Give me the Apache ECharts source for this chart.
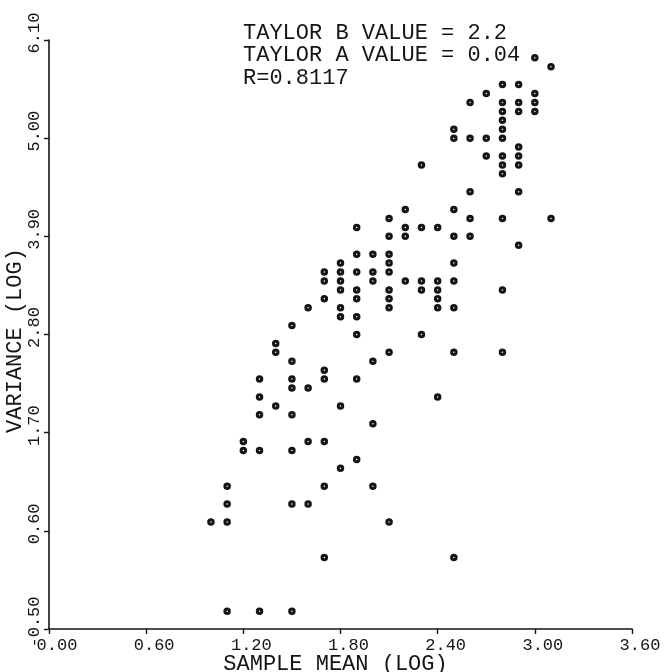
<!DOCTYPE html>
<html>
<head>
<meta charset="utf-8">
<script src="https://cdn.jsdelivr.net/npm/echarts@6/dist/echarts.min.js"></script>
<style>
  html, body { margin: 0; padding: 0; background: #fff; }
  #chart { width: 664px; height: 672px; }
</style>
</head>
<body>
<div id="chart"></div>
<script>
// Sample means (log) and the variances (log) observed at each mean
const sampleMean = [1.0, 1.1, 1.2, 1.3, 1.4, 1.5, 1.6, 1.7, 1.8, 1.9, 2.0,
                    2.1, 2.2, 2.3, 2.4, 2.5, 2.6, 2.7, 2.8, 2.9, 3.0, 3.1];
const varianceAtMean = [
  [0.7],
  [1.1, 0.9, 0.7, -0.3],
  [1.6, 1.5],
  [2.3, 2.1, 1.9, 1.5, -0.3],
  [2.7, 2.6, 2.0],
  [2.9, 2.5, 2.3, 2.2, 1.9, 1.5, 0.9, -0.3],
  [3.1, 2.2, 1.6, 0.9],
  [3.5, 3.4, 3.2, 2.4, 2.3, 1.6, 1.1, 0.3],
  [3.6, 3.5, 3.4, 3.3, 3.1, 3.0, 2.0, 1.3],
  [4.0, 3.7, 3.5, 3.3, 3.2, 3.0, 2.8, 2.3, 1.4],
  [3.7, 3.5, 3.4, 2.5, 1.8, 1.1],
  [4.1, 3.9, 3.7, 3.6, 3.5, 3.3, 3.2, 3.1, 2.6, 0.7],
  [4.2, 4.0, 3.9, 3.4],
  [4.7, 4.0, 3.4, 3.3, 2.8],
  [4.0, 3.4, 3.3, 3.2, 3.1, 2.1],
  [5.1, 5.0, 4.2, 3.9, 3.6, 3.4, 3.1, 2.6, 0.3],
  [5.4, 5.0, 4.4, 4.1, 3.9],
  [5.5, 5.0, 4.8],
  [5.6, 5.4, 5.3, 5.2, 5.1, 5.0, 4.8, 4.7, 4.6, 4.1, 3.3, 2.6],
  [5.6, 5.4, 5.3, 4.9, 4.8, 4.7, 4.4, 3.8],
  [5.9, 5.5, 5.4, 5.3],
  [5.8, 4.1]
];

const xTicks = [0, 0.6, 1.2, 1.8, 2.4, 3.0, 3.6];
const yTicks = [-0.5, 0.6, 1.7, 2.8, 3.9, 5.0, 6.1];
const statLines = ['TAYLOR B VALUE = 2.2', 'TAYLOR A VALUE = 0.04', 'R=0.8117'];

const points = [];
sampleMean.forEach((m, i) => {
  varianceAtMean[i].forEach(v => points.push([m, v]));
});

const ink = '#151515';
const mono = '"Liberation Mono", "DejaVu Sans Mono", monospace';

const axisLine = { show: true, onZero: false, lineStyle: { color: ink, width: 1.6 } };
const axisTick = { show: true, inside: false, length: 5, lineStyle: { color: ink, width: 1.4 } };

const chart = echarts.init(document.getElementById('chart'), null, { renderer: 'canvas' });
chart.setOption({
  animation: false,
  backgroundColor: '#fff',
  grid: { left: 49, right: 32, top: 40, bottom: 43, containLabel: false, outerBoundsMode: 'none' },
  xAxis: {
    type: 'value',
    min: xTicks[0],
    max: xTicks[xTicks.length - 1],
    interval: 0.6,
    axisLine,
    axisTick,
    splitLine: { show: false },
    axisLabel: {
      formatter: v => v.toFixed(2),
      fontFamily: mono, fontSize: 17, color: ink, margin: 8,
      padding: [0, 0, 0, 16]
    },
    name: 'SAMPLE MEAN (LOG)',
    nameLocation: 'middle',
    nameGap: 24,
    nameMoveOverlap: false,
    nameTextStyle: { fontFamily: mono, fontSize: 22, color: ink, padding: [0, 10, 0, 0] }
  },
  yAxis: {
    type: 'value',
    min: yTicks[0],
    max: yTicks[yTicks.length - 1],
    axisLine,
    axisTick: Object.assign({}, axisTick, { customValues: yTicks }),
    splitLine: { show: false },
    axisLabel: {
      customValues: yTicks,
      rotate: 90,
      formatter: v => v.toFixed(2),
      fontFamily: mono, fontSize: 17, color: ink, margin: 6,
      padding: [0, 0, 0, 14]
    },
    name: 'VARIANCE (LOG)',
    nameLocation: 'middle',
    nameRotate: 90,
    nameGap: 23,
    nameMoveOverlap: false,
    nameTextStyle: { fontFamily: mono, fontSize: 22, color: ink, padding: [0, 12, 0, 0] }
  },
  graphic: statLines.map((t, i) => ({
    type: 'text',
    left: 243,
    top: 22 + i * 22.5,
    style: { text: t, font: '22px ' + mono, fill: ink }
  })),
  series: [{
    type: 'scatter',
    data: points,
    symbol: 'circle',
    symbolSize: 4.5,
    itemStyle: { color: '#fff', borderColor: ink, borderWidth: 3, opacity: 1 },
    emphasis: { disabled: true }
  }]
});
</script>
</body>
</html>
